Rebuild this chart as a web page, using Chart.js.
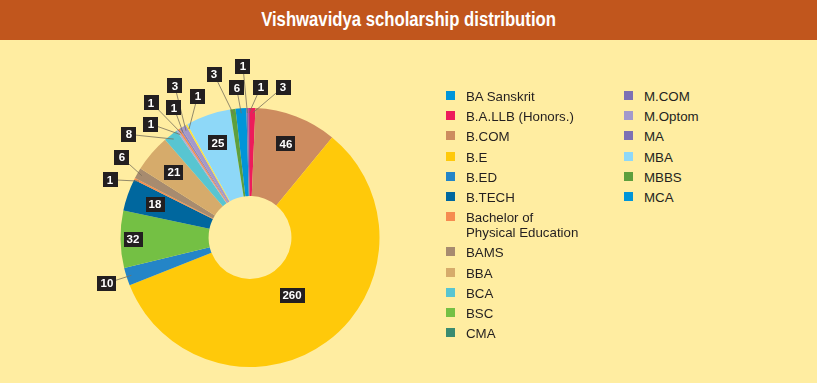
<!DOCTYPE html>
<html><head><meta charset="utf-8">
<script src="https://cdn.jsdelivr.net/npm/chart.js@4.4.1/dist/chart.umd.min.js"></script>
<style>
html,body{margin:0;padding:0;}
body{width:817px;height:383px;background:#FFEDA1;position:relative;overflow:hidden;font-family:"Liberation Sans",Arial,sans-serif;}
#title{position:absolute;left:0;top:0;width:817px;height:40px;background:#C1561D;text-align:center;}
#title span{display:inline-block;color:#fff;font-family:"Liberation Sans",Arial,sans-serif;font-weight:bold;font-size:20px;line-height:38px;transform:scaleX(0.835);transform-origin:center;}
#wrap{position:absolute;left:0;top:40px;width:500px;height:343px;}
#legend{position:absolute;left:446px;top:89px;}
.col{position:absolute;top:0;}
.item{position:relative;padding-left:20px;line-height:15px;font-size:13.3px;color:#231f20;margin-bottom:5.2px;width:116px;}
.item .sw{position:absolute;left:0;top:2px;width:9px;height:9px;}
</style></head>
<body>
<div id="title"><span>Vishwavidya scholarship distribution</span></div>
<div id="wrap"><canvas id="c" width="500" height="343"></canvas></div>
<div id="legend"></div>
<script>
// Pie slices, clockwise from 12 o'clock
const categories = ["B.A.LLB (Honors.)","B.COM","B.E","B.ED","BSC","B.TECH","Bachelor of Physical Education","BAMS","BBA","BCA","M.COM","","MA","M.Optom","","MBA","MBBS","MCA","CMA","BA Sanskrit"];
const values = [3,46,260,10,32,18,1,6,21,8,1,1,1,3,1,25,3,6,1,1];
const sliceColors = ["#ED1C5B","#CD8C5F","#FFC90A","#2485C7","#74C044","#00679E","#F68B50","#A78B6F","#D6AB6B","#58C5D1","#B3A9D6","#F68B50","#8E84C2","#A399CC","#FFE33A","#8ED8F8","#5D9F3D","#0095D9","#7D70B4","#C2338A"];
// Legend entries as listed
const legendLabels = ["BA Sanskrit","B.A.LLB (Honors.)","B.COM","B.E","B.ED","B.TECH","Bachelor of Physical Education","BAMS","BBA","BCA","BSC","CMA","M.COM","M.Optom","MA","MBA","MBBS","MCA"];
const legendColors = ["#0095D9","#ED1C5B","#CD8C5F","#FFC90A","#2485C7","#00679E","#F68B50","#A78B6F","#D6AB6B","#58C5D1","#74C044","#3A8B70","#7D70B4","#A399CC","#7D70B4","#8ED8F8","#5D9F3D","#0095D9"];
const legendPerColumn = 12;

// legend
const lg = document.getElementById('legend');
for (let c = 0; c * legendPerColumn < legendLabels.length; c++) {
  const col = document.createElement('div');
  col.className = 'col';
  col.style.left = (c * 178) + 'px';
  legendLabels.slice(c * legendPerColumn, (c + 1) * legendPerColumn).forEach((t, k) => {
    const it = document.createElement('div');
    it.className = 'item';
    const sw = document.createElement('span');
    sw.className = 'sw';
    sw.style.background = legendColors[c * legendPerColumn + k];
    it.appendChild(sw);
    it.appendChild(document.createTextNode(t));
    col.appendChild(it);
  });
  lg.appendChild(col);
}

const sliceLabels = {
  id: 'sliceLabels',
  afterDatasetsDraw(chart, args, opts) {
    const meta = chart.getDatasetMeta(0);
    const ctx = chart.ctx;
    ctx.save();
    ctx.font = 'bold 11.5px "Liberation Sans", Arial, sans-serif';
    const inside = [], outside = [];
    let cx = 0, cy = 0, R = 0;
    meta.data.forEach((arc, i) => {
      const p = arc.getProps(['x','y','startAngle','endAngle','outerRadius'], true);
      cx = p.x; cy = p.y; R = p.outerRadius;
      const mid = (p.startAngle + p.endAngle) / 2;
      const text = String(values[i]);
      const w = Math.max(Math.round(ctx.measureText(text).width) + 6, 15);
      const it = {i, mid, text, w, h: 15};
      (values[i] > opts.outsideMax ? inside : outside).push(it);
    });
    inside.forEach(it => {
      const f = (opts.radiusOverrides[it.i] !== undefined) ? opts.radiusOverrides[it.i] : opts.insideRadius;
      it.x = cx + Math.cos(it.mid) * R * f;
      it.y = cy + Math.sin(it.mid) * R * f;
    });
    // outside labels: relax boxes around the ring, mostly along the ring
    const R0 = R + opts.ringGap;
    outside.forEach(it => {
      it.ax = cx + Math.cos(it.mid) * R0; it.ay = cy + Math.sin(it.mid) * R0;
      it.x = it.ax; it.y = it.ay;
    });
    const all = outside;
    const tw = opts.tangentWeight;
    for (let iter = 0; iter < 900; iter++) {
      for (let a = 0; a < all.length; a++) {
        for (let b = a + 1; b < all.length; b++) {
          let A = all[a], B = all[b];
          if (B.mid < A.mid) { const t = A; A = B; B = t; }
          let dx = B.x - A.x, dy = B.y - A.y;
          const ox = (A.w + B.w) / 2 + opts.gapX - Math.abs(dx);
          const oy = (A.h + B.h) / 2 + opts.gapY - Math.abs(dy);
          if (ox > 0 && oy > 0) {
            const d = Math.max(Math.hypot(dx, dy), 0.01);
            const am = (A.mid + B.mid) / 2;
            const tx = -Math.sin(am), ty = Math.cos(am); // clockwise tangent
            let ux = tx * tw + dx / d * (1 - tw), uy = ty * tw + dy / d * (1 - tw);
            const ul = Math.hypot(ux, uy) || 1; ux /= ul; uy /= ul;
            const m = Math.min(ox, oy) * 0.25;
            A.x -= ux * m; A.y -= uy * m;
            B.x += ux * m; B.y += uy * m;
          }
        }
      }
      all.forEach(p => {
        p.x += (p.ax - p.x) * 0.012; p.y += (p.ay - p.y) * 0.012;
        const r = Math.hypot(p.x - cx, p.y - cy);
        if (r < R0) { p.x = cx + (p.x - cx) / r * R0; p.y = cy + (p.y - cy) / r * R0; }
        if (p.y - p.h / 2 < 3) p.y = 3 + p.h / 2;
      });
    }
    // leader lines
    ctx.strokeStyle = '#77705C';
    ctx.lineWidth = 0.8;
    outside.forEach(it => {
      const r = R - 5;
      ctx.beginPath();
      ctx.moveTo(cx + Math.cos(it.mid) * r, cy + Math.sin(it.mid) * r);
      ctx.lineTo(it.x, it.y);
      ctx.stroke();
    });
    // boxes
    ctx.textAlign = 'center';
    ctx.textBaseline = 'middle';
    inside.concat(outside).forEach(it => {
      ctx.fillStyle = '#231F20';
      ctx.fillRect(Math.round(it.x - it.w / 2), Math.round(it.y - it.h / 2), it.w, it.h);
      ctx.fillStyle = '#FFFFFF';
      ctx.fillText(it.text, Math.round(it.x), Math.round(it.y) + 1);
    });
    ctx.restore();
  }
};

new Chart(document.getElementById('c'), {
  type: 'doughnut',
  data: {
    labels: categories,
    datasets: [{data: values, backgroundColor: sliceColors, borderWidth: 0, hoverOffset: 0}]
  },
  options: {
    responsive: false,
    devicePixelRatio: 1,
    animation: false,
    cutout: '32%',
    layout: {padding: {top: 68, bottom: 16, left: 120.5, right: 120.5}},
    plugins: {
      legend: {display: false}, tooltip: {enabled: false}, title: {display: false},
      sliceLabels: {outsideMax: 10, insideRadius: 0.775, ringGap: 21, gapX: 9, gapY: 8,
        tangentWeight: 0.7, radiusOverrides: {2: 0.55, 4: 0.9}}
    }
  },
  plugins: [sliceLabels]
});
</script>
</body></html>
